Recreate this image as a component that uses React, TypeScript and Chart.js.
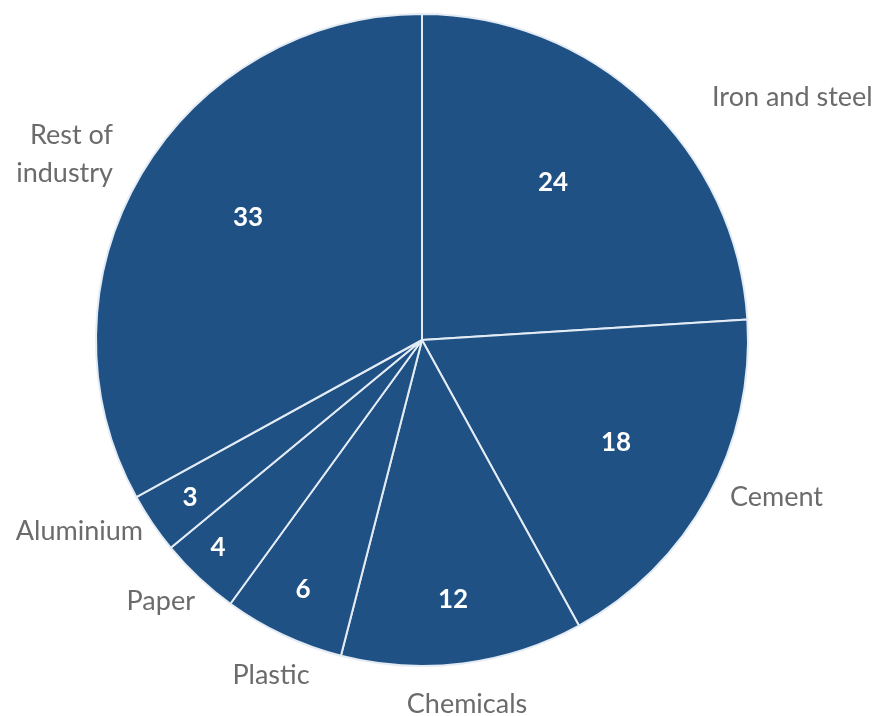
import React, { useEffect, useRef } from "react";
import { Chart, registerables } from "chart.js";

Chart.register(...registerables);

const categories = ["Iron and steel", "Cement", "Chemicals", "Plastic", "Paper", "Aluminium", "Rest of industry"];
const values = [24, 18, 12, 6, 4, 3, 33];

// style: value label placement relative to pie centre, in units of radius
const valueLabelPos = [
  { dx: 131 / 326, dy: -157 / 326 },
  { dx: 194 / 326, dy: 103 / 326 },
  { dx: 31 / 326, dy: 260 / 326 },
  { dx: -119 / 326, dy: 250 / 326 },
  { dx: -204 / 326, dy: 208 / 326 },
  { dx: -232 / 326, dy: 158 / 326 },
  { dx: -174 / 326, dy: -122 / 326 },
];
// style: outside label placement relative to pie centre, in units of radius
const outsideLabelPos: { dx: number; dy: number; align: CanvasTextAlign; lines: string[] }[] = [
  { dx: 290 / 326, dy: -243 / 326, align: "left", lines: ["Iron and steel"] },
  { dx: 308 / 326, dy: 157 / 326, align: "left", lines: ["Cement"] },
  { dx: 45 / 326, dy: 364 / 326, align: "center", lines: ["Chemicals"] },
  { dx: -151 / 326, dy: 335 / 326, align: "center", lines: ["Plastic"] },
  { dx: -227 / 326, dy: 261 / 326, align: "right", lines: ["Paper"] },
  { dx: -279 / 326, dy: 191 / 326, align: "right", lines: ["Aluminium"] },
  { dx: -309 / 326, dy: -186 / 326, align: "right", lines: ["Rest of", "industry"] },
];

const FONT = "Lato, 'Open Sans', sans-serif";

const labelPlugin = {
  id: "pieLabels",
  afterDatasetsDraw(chart: any) {
    const ctx = chart.ctx as CanvasRenderingContext2D;
    const meta = chart.getDatasetMeta(0);
    ctx.save();
    meta.data.forEach((arc: any, i: number) => {
      const { x, y, outerRadius } = arc.getProps(["x", "y", "outerRadius"], true);
      const v = valueLabelPos[i];
      ctx.fillStyle = "#ffffff";
      ctx.font = `bold 26px ${FONT}`;
      ctx.textAlign = "center";
      ctx.textBaseline = "middle";
      ctx.fillText(String(values[i]), x + v.dx * outerRadius, y + v.dy * outerRadius);

      const p = outsideLabelPos[i];
      ctx.fillStyle = "#6b6b6b";
      ctx.font = `27px ${FONT}`;
      ctx.textAlign = p.align;
      const lh = 38;
      const n = p.lines.length;
      p.lines.forEach((line, k) => {
        ctx.fillText(line, x + p.dx * outerRadius, y + p.dy * outerRadius + (k - (n - 1) / 2) * lh);
      });
    });
    ctx.restore();
  },
};

export default function App() {
  const ref = useRef<HTMLCanvasElement>(null);
  useEffect(() => {
    if (!ref.current) return;
    const chart = new Chart(ref.current, {
      type: "pie",
      data: {
        labels: categories,
        datasets: [
          {
            data: values,
            backgroundColor: "#1f5185",
            borderColor: "#e3ebf4",
            borderWidth: 2,
          },
        ],
      },
      options: {
        animation: false,
        responsive: false,
        maintainAspectRatio: false,
        layout: { padding: { left: 95, right: 128, top: 13, bottom: 49 } },
        plugins: { legend: { display: false }, tooltip: { enabled: false } },
        events: [],
      },
      plugins: [labelPlugin],
    });
    return () => chart.destroy();
  }, []);
  return (
    <div style={{ position: "fixed", left: 0, top: 0, width: 877, height: 716, background: "#fff" }}>
      <canvas ref={ref} width={877} height={716} style={{ width: 877, height: 716 }} />
    </div>
  );
}
